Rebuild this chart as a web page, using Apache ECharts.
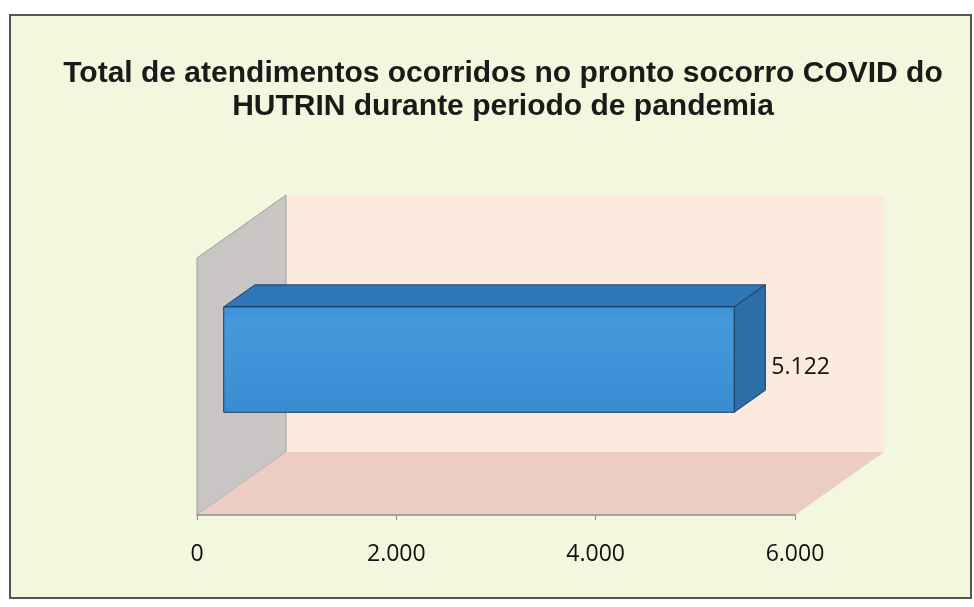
<!DOCTYPE html>
<html><head><meta charset="utf-8">
<script src="https://cdn.jsdelivr.net/npm/echarts@6/dist/echarts.min.js"></script>
<style>html,body{margin:0;padding:0;background:#ffffff}#c{width:974px;height:607px}</style>
</head><body><div id="c"></div>
<script>
const titleText = 'Total de atendimentos ocorridos no pronto socorro COVID do\nHUTRIN durante periodo de pandemia';
const categories = ['Atendimentos'];
const values = [5122];
const tickLabels = ['0', '2.000', '4.000', '6.000'];
const axisMin = 0, axisMax = 6000, axisStep = 2000;

// 3D look (style only)
const DX = 89, DY = -63;          // depth offset of back wall
const BAR_F0 = 0.3, BAR_D = 0.35; // bar front depth and bar depth (fractions)
const BAR_H = 0.41;               // bar thickness as fraction of band
const BAR_SHIFT = -8;

const fmt = v => String(Math.round(v)).replace(/\B(?=(\d{3})+(?!\d))/g, '.');

function renderWalls(params, api) {
  const cs = params.coordSys;
  const x0 = cs.x, x1 = cs.x + cs.width, yT = cs.y, yB = cs.y + cs.height;
  return {type: 'group', children: [
    {type: 'polygon', shape: {points: [[x0 + DX, yT + DY], [x1 + DX, yT + DY], [x1 + DX, yB + DY], [x0 + DX, yB + DY]]},
     style: {fill: '#FCEADF'}},
    {type: 'polygon', shape: {points: [[x0, yT], [x0 + DX, yT + DY], [x0 + DX, yB + DY], [x0, yB]]},
     style: {fill: '#C9C5C5', stroke: '#a0a0a0', lineWidth: 1}},
    {type: 'polygon', shape: {points: [[x0, yB], [x0 + DX, yB + DY], [x1 + DX, yB + DY], [x1, yB]]},
     style: {fill: '#EBCDC3'}}
  ]};
}

function renderBar(params, api) {
  const v = api.value(0), c = api.value(1);
  const p0 = api.coord([0, c]);
  const p1 = api.coord([v, c]);
  const band = api.size([0, 1])[1];
  const h = band * BAR_H;
  const fx = BAR_F0 * DX, fy = BAR_F0 * DY + BAR_SHIFT;
  const bx = BAR_D * DX, by = BAR_D * DY;
  const L = p0[0] + fx, R = p1[0] + fx;
  const T = p0[1] - h / 2 + fy, B = p0[1] + h / 2 + fy;
  const edge = '#1e3a5c';
  return {type: 'group', children: [
    {type: 'polygon', shape: {points: [[L, T], [R, T], [R + bx, T + by], [L + bx, T + by]]},
     style: {fill: '#2F77B8', stroke: edge, lineWidth: 1}},
    {type: 'polygon', shape: {points: [[R, T], [R + bx, T + by], [R + bx, B + by], [R, B]]},
     style: {fill: '#2D6EA8', stroke: edge, lineWidth: 1}},
    {type: 'rect', shape: {x: L, y: T, width: R - L, height: B - T},
     style: {fill: new echarts.graphic.LinearGradient(0, 0, 0, 1, [
       {offset: 0, color: '#3D92D8'}, {offset: 0.15, color: '#4499DD'}, {offset: 1, color: '#3A8CD2'}]),
       stroke: edge, lineWidth: 1}},
    {type: 'text', style: {x: R + bx + 6, y: (T + B) / 2 + 8, text: fmt(v), fill: '#111',
      font: '23px "Open Sans", sans-serif', verticalAlign: 'middle', align: 'left'}}
  ]};
}

const chart = echarts.init(document.getElementById('c'), null, {renderer: 'canvas'});
chart.setOption({
  animation: false,
  backgroundColor: '#ffffff',
  graphic: [{type: 'rect', z: -10, shape: {x: 10, y: 15, width: 961, height: 583},
    style: {fill: '#F2F7DE', stroke: '#555', lineWidth: 2}}],
  title: {text: titleText, left: 498, textAlign: 'center', top: 52,
    textStyle: {fontFamily: 'Arial, "Liberation Sans", sans-serif', fontWeight: 'bold', fontSize: 30,
      lineHeight: 33, color: '#1a1a1a'}},
  grid: {left: 197, right: 179, top: 258, bottom: 92, containLabel: false},
  xAxis: {type: 'value', min: axisMin, max: axisMax, interval: axisStep, z: 10,
    axisLine: {show: true, lineStyle: {color: '#8c8c8c', width: 1.5}},
    axisTick: {show: true, length: 5, lineStyle: {color: '#8c8c8c'}},
    splitLine: {show: false},
    axisLabel: {margin: 28, fontFamily: '"Open Sans", sans-serif', fontSize: 23, color: '#111',
      formatter: v => tickLabels[Math.round((v - axisMin) / axisStep)]}},
  yAxis: {type: 'category', data: categories, axisLine: {show: false}, axisTick: {show: false},
    axisLabel: {show: false}, splitLine: {show: false}},
  series: [
    {type: 'custom', renderItem: renderWalls, data: [[0, 0]], z: 1, silent: true},
    {type: 'custom', renderItem: renderBar, data: values.map((v, i) => [v, i]), z: 3,
     encode: {x: 0, y: 1}}
  ]
});
</script></body></html>
